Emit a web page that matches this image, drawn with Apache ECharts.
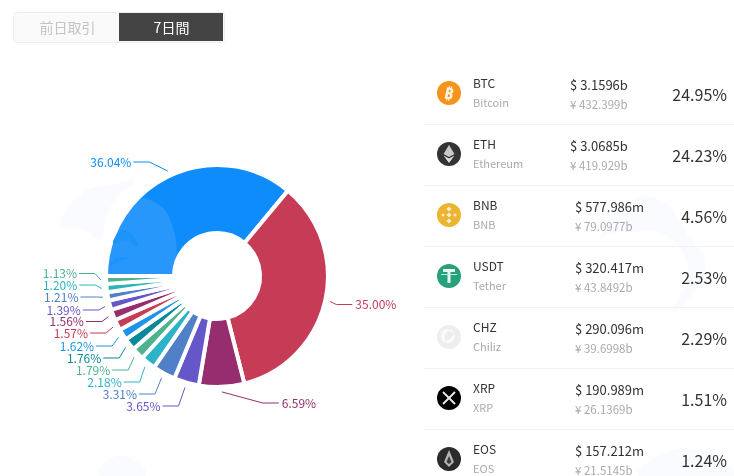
<!DOCTYPE html>
<html><head><meta charset="utf-8">
<style>html,body{margin:0;padding:0;background:#fff}#c{width:734px;height:476px}</style>
<script src="https://cdn.jsdelivr.net/npm/echarts@6/dist/echarts.min.js"></script>
</head><body><div id="c"></div>
<script>
const pieValues=[36.04,35.00,6.59,3.65,3.31,2.18,1.79,1.76,1.62,1.57,1.56,1.39,1.21,1.20,1.13];
const pieColors=['#0f8cfb','#c63b55','#952d6f','#6556c9','#5180c8','#2cb3c9','#4fb28f','#0a8799','#1f93e8','#c63b55','#952d6f','#6556c9','#5180c8','#2cb3b9','#4fb28f'];
const labelYs=[162,304.5,403,406,394,382,370,358,346,333,321.5,310,297,285,273.5];
const symbols=['BTC','ETH','BNB','USDT','CHZ','XRP','EOS'];
const names=['Bitcoin','Ethereum','BNB','Tether','Chiliz','XRP','EOS'];
const usd=['$ 3.1596b','$ 3.0685b','$ 577.986m','$ 320.417m','$ 290.096m','$ 190.989m','$ 157.212m'];
const cny=['¥ 432.399b','¥ 419.929b','¥ 79.0977b','¥ 43.8492b','¥ 39.6998b','¥ 26.1369b','¥ 21.5145b'];
const shares=['24.95%','24.23%','4.56%','2.53%','2.29%','1.51%','1.24%'];
const iconColors=['#f7931a','#333333','#ecb52f','#26a17b','#eeeeee','#000000','#2b2b2b'];
const tabs=['前日取引','7日間'];
const FONT='"Noto Sans CJK JP","Noto Sans",sans-serif';
const CX=217, CY=276, R=111;
const T=(x,y,text,size,fill,align,weight)=>({type:'text',x,y,silent:true,style:{text,font:(weight?weight+' ':'')+size+'px '+FONT,fill,align:align||'left',verticalAlign:'middle'}});
const poly=(pts,fill)=>({type:'polygon',shape:{points:pts},style:{fill},silent:true});
const g=[];
// faint watermarks behind everything
[
 [[600,238],[625,205],[660,200],[690,238],[705,262],[695,290],[672,312],[688,270],[665,235],[630,232],[618,232],[608,234]],
 [[100,476],[108,460],[130,458],[145,476]],
 [[640,476],[660,455],[700,450],[734,470],[734,476]],
 [[60,225],[80,195],[110,185],[135,182],[115,200],[105,225],[100,240],[88,232],[75,228]]
].forEach(pts=>g.push({type:'polygon',z:-1,silent:true,shape:{points:pts,smooth:0.5},style:{fill:'#fafbfe'}}));
// tabs
g.push({type:'rect',shape:{x:13.5,y:12.5,width:211,height:30,r:3},style:{fill:'#fafafa',stroke:'#eeeeee'},silent:true});
g.push({type:'rect',shape:{x:119,y:13,width:104,height:28},style:{fill:'#444444'},silent:true});
g.push(T(67.5,28,tabs[0],14,'#c4c4c4','center'));
g.push(T(171.5,28,tabs[1],14,'#ffffff','center'));
// rows
const rowH=61, firstRowY=93;
symbols.forEach((s,i)=>{
  const cy=firstRowY+i*rowH, cx=449;
  g.push({type:'circle',shape:{cx,cy,r:12},style:{fill:iconColors[i]},silent:true});
  if(s==='BTC') g.push(Object.assign(T(cx,cy,'₿',16,'#fdf3e4','center','bold'),{rotation:-0.22,originX:0,originY:0}));
  if(s==='ETH'){g.push(poly([[cx,cy-9],[cx+5.5,cy],[cx,cy+3],[cx-5.5,cy]],'#c8c8c8'));g.push(poly([[cx,cy+4.5],[cx+5.5,cy+1.5],[cx,cy+9],[cx-5.5,cy+1.5]],'#e0e0e0'));}
  if(s==='BNB'){[[0,-6,2.6],[0,6,2.6],[-6,0,1.8],[6,0,1.8],[0,0,2.6]].forEach(o=>g.push(poly([[cx+o[0],cy+o[1]-o[2]],[cx+o[0]+o[2],cy+o[1]],[cx+o[0],cy+o[1]+o[2]],[cx+o[0]-o[2],cy+o[1]]],'#fbf0d2')));}
  if(s==='USDT'){g.push({type:'rect',shape:{x:cx-6,y:cy-7,width:12,height:3},style:{fill:'#e8f6f1'},silent:true});g.push({type:'rect',shape:{x:cx-1.5,y:cy-7,width:3,height:14},style:{fill:'#e8f6f1'},silent:true});g.push({type:'line',shape:{x1:cx-8,y1:cy-1.5,x2:cx+8,y2:cy-1.5},style:{stroke:'#cdeae0',lineWidth:1},silent:true});}
  if(s==='CHZ'){g.push({type:'circle',shape:{cx:cx-1,cy:cy-1,r:7},style:{fill:'#fafafa'},silent:true});g.push(poly([[cx-1,cy-6],[cx+6,cy-4],[cx+2,cy+1],[cx-4,cy+4],[cx-4,cy-2]],'#ececec'));}
  if(s==='XRP'){[[-6,-6,6,6],[-6,6,6,-6]].forEach(l=>g.push({type:'line',shape:{x1:cx+l[0],y1:cy+l[1],x2:cx+l[2],y2:cy+l[3]},style:{stroke:'#e8e8e8',lineWidth:2},silent:true}));}
  if(s==='EOS'){g.push(poly([[cx,cy-9],[cx+5,cy+3],[cx,cy+8],[cx-5,cy+3]],'#b5b5b5'));g.push(poly([[cx,cy-3],[cx+2.5,cy+3],[cx,cy+5],[cx-2.5,cy+3]],'#3a3a3a'));}
  g.push(T(473,cy-10,s,12,'#333333'));
  g.push(T(473,cy+10,names[i],11,'#aaaaaa'));
  const px=i<2?570:575;
  g.push(T(px,cy-8,usd[i],13,'#333333'));
  g.push(T(px,cy+12,cny[i],11.5,'#aaaaaa'));
  g.push(T(727,cy+2,shares[i],16,'#333333','right'));
  if(i<6) g.push({type:'line',shape:{x1:424,y1:cy+31.5,x2:734,y2:cy+31.5},style:{stroke:'#f2f2f2',lineWidth:1},silent:true});
});
// watermark showing through the first slice
g.push({type:'polygon',z:20,silent:true,shape:{points:[[108,274],[112,240],[125,215],[143,198],[165,210],[176,240],[172,274]],smooth:0.25},style:{fill:'rgba(255,255,255,0.10)'}});
g.push({type:'polygon',z:21,silent:true,shape:{points:[[113,243],[122,230],[132,235],[138,247],[126,240]],smooth:0.4},style:{fill:'#1c92fb'}});
g.push({type:'polygon',z:21,silent:true,shape:{points:[[109,266],[118,258],[130,258],[120,261]],smooth:0.4},style:{fill:'#1c92fb'}});

const labelLayout=p=>{
  const i=p.dataIndex, y=labelYs[i], pts=p.labelLinePoints;
  if(!pts) return {};
  const sx=pts[0][0]-CX, sy=pts[0][1]-CY, len=Math.hypot(sx,sy), k=(len+5)/len;
  const side=sx<0&&i!==2?-1:1;
  const elbowX=CX+side*122*Math.sqrt(Math.max(0,1-Math.pow((y-CY)/137,2)));
  const endX=elbowX+side*16;
  return {x:endX+(side<0?-2:3),y,align:side<0?'right':'left',verticalAlign:'middle',
    labelLinePoints:[[CX+sx*k,CY+sy*k],[elbowX,y],[endX,y]]};
};
const chart=echarts.init(document.getElementById('c'),null,{renderer:'canvas'});
chart.setOption({
  animation:false,
  graphic:{elements:g},
  series:[{
    type:'pie',center:[CX,CY],radius:[43,R],startAngle:180,clockwise:true,
    avoidLabelOverlap:false,
    itemStyle:{borderColor:'#ffffff',borderWidth:4},
    label:{show:true,formatter:p=>p.value.toFixed(2)+'%',fontSize:12,fontFamily:FONT},
    labelLine:{show:true,length:16,length2:14,smooth:false,lineStyle:{width:1}},
    labelLayout,
    emphasis:{disabled:true},
    data:pieValues.map((v,i)=>({value:v,itemStyle:{color:pieColors[i]},label:{color:pieColors[i]},labelLine:{lineStyle:{color:pieColors[i]}}}))
  }]
});
</script></body></html>
